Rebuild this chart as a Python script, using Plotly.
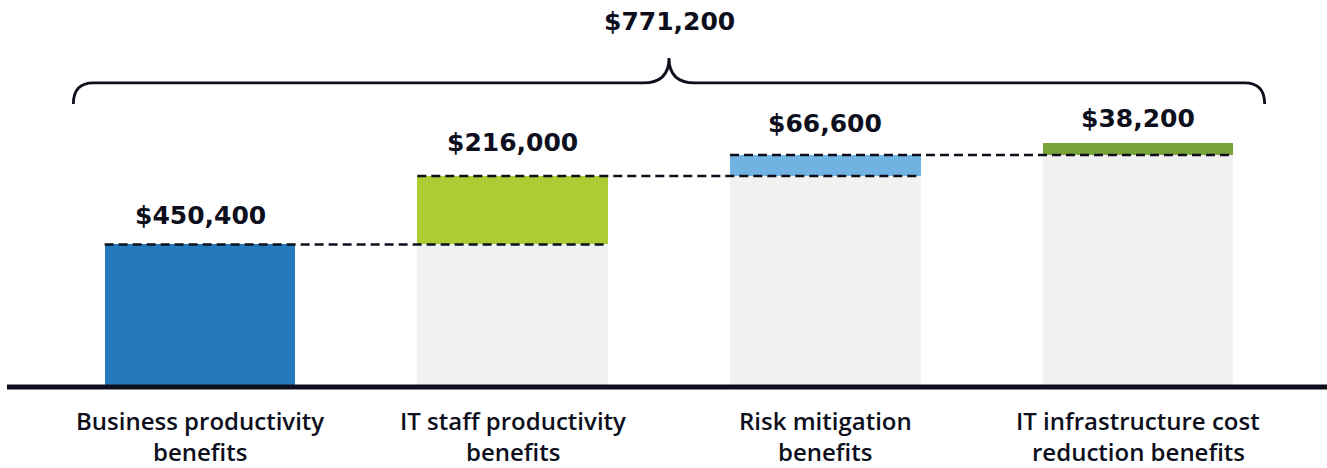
import plotly.graph_objects as go

# ---- data ----
categories = ["Business productivity<br>benefits",
              "IT staff productivity<br>benefits",
              "Risk mitigation<br>benefits",
              "IT infrastructure cost<br>reduction benefits"]
benefits = [450400, 216000, 66600, 38200]
value_labels = ["$450,400", "$216,000", "$66,600", "$38,200"]
total_label = "$771,200"
bar_colors = ["#2479bd", "#adcb32", "#70b3e3", "#7aa33c"]
base_color = "#f1f1f1"

# ---- derived ----
n = len(benefits)
bases = [sum(benefits[:i]) for i in range(n)]
tops = [bases[i] + benefits[i] for i in range(n)]
total = sum(benefits)
xs = list(range(n))

W, H = 1327, 468
ML, MR, MT, MB = 7, 0, 0, 71
PX_PER_CAT = 312.67
X0_PX = 200
Y_PER_PX = 3160.0
BASE_PX = 387
BAR_W = 0.61

x_lo = (ML - X0_PX) / PX_PER_CAT
x_hi = x_lo + (W - ML - MR) / PX_PER_CAT
plot_h = H - MT - MB
y_lo = -(MT + plot_h - BASE_PX) * Y_PER_PX
y_hi = y_lo + plot_h * Y_PER_PX

INK = "#0d0f1c"
VAL_FONT = "DejaVu Sans"
CAT_FONT = "Open Sans"

fig = go.Figure()
fig.add_trace(go.Bar(x=xs, y=bases, marker_color=base_color, width=BAR_W,
                     marker_line_width=0, hoverinfo="skip", showlegend=False))
fig.add_trace(go.Bar(x=xs, y=benefits, marker_color=bar_colors, width=BAR_W,
                     marker_line_width=0, showlegend=False))

shapes = []
# baseline
shapes.append(dict(type="line", xref="paper", x0=0, x1=1, yref="y", y0=0, y1=0,
                   line=dict(color=INK, width=5), layer="above"))
# dashed connectors
for i in range(n - 1):
    shapes.append(dict(type="line", xref="x", yref="y",
                       x0=xs[i] - BAR_W / 2, x1=xs[i + 1] + BAR_W / 2,
                       y0=tops[i], y1=tops[i],
                       line=dict(color=INK, width=2.5, dash="9px,5px"), layer="above"))

# brace over all bars
xc = (xs[0] + xs[-1]) / 2
half = 1.905
xL, xR = xc - half, xc + half
y_end = total + 39 * Y_PER_PX
y_mid = total + 60 * Y_PER_PX
y_cusp = total + 85 * Y_PER_PX
rx = 20 / PX_PER_CAT
cx = 26 / PX_PER_CAT
path = (f"M {xL},{y_end} Q {xL},{y_mid} {xL + rx},{y_mid} "
        f"L {xc - cx},{y_mid} Q {xc},{y_mid} {xc},{y_cusp} "
        f"Q {xc},{y_mid} {xc + cx},{y_mid} "
        f"L {xR - rx},{y_mid} Q {xR},{y_mid} {xR},{y_end}")
shapes.append(dict(type="path", xref="x", yref="y", path=path,
                   line=dict(color=INK, width=2.8), layer="above"))

annotations = []
label_shift = [29, 34, 32, 24]
for i in range(n):
    annotations.append(dict(x=xs[i], y=tops[i], xref="x", yref="y", text=value_labels[i],
                            showarrow=False, yanchor="middle", yshift=label_shift[i],
                            font=dict(family=VAL_FONT, size=25, color=INK, weight="bold")))
annotations.append(dict(x=xc, y=total, xref="x", yref="y", text=total_label,
                        showarrow=False, yanchor="middle", yshift=121,
                        font=dict(family=VAL_FONT, size=25, color=INK, weight="bold")))
for i in range(n):
    for j, line in enumerate(categories[i].split("<br>")):
        annotations.append(dict(x=xs[i], y=0, xref="x", yref="y", text=line,
                                showarrow=False, yanchor="middle", yshift=-33 - 31 * j,
                                font=dict(family=CAT_FONT, size=24, color=INK, weight=600)))

fig.update_layout(
    width=W, height=H,
    margin=dict(l=ML, r=MR, t=MT, b=MB, pad=0),
    barmode="stack", bargap=0,
    plot_bgcolor="white", paper_bgcolor="white",
    xaxis=dict(range=[x_lo, x_hi], visible=False, fixedrange=True),
    yaxis=dict(range=[y_lo, y_hi], visible=False, fixedrange=True),
    shapes=shapes, annotations=annotations,
)

fig.write_html("out.html", config={"displayModeBar": False},
               post_script="document.body.style.margin='0px';")
